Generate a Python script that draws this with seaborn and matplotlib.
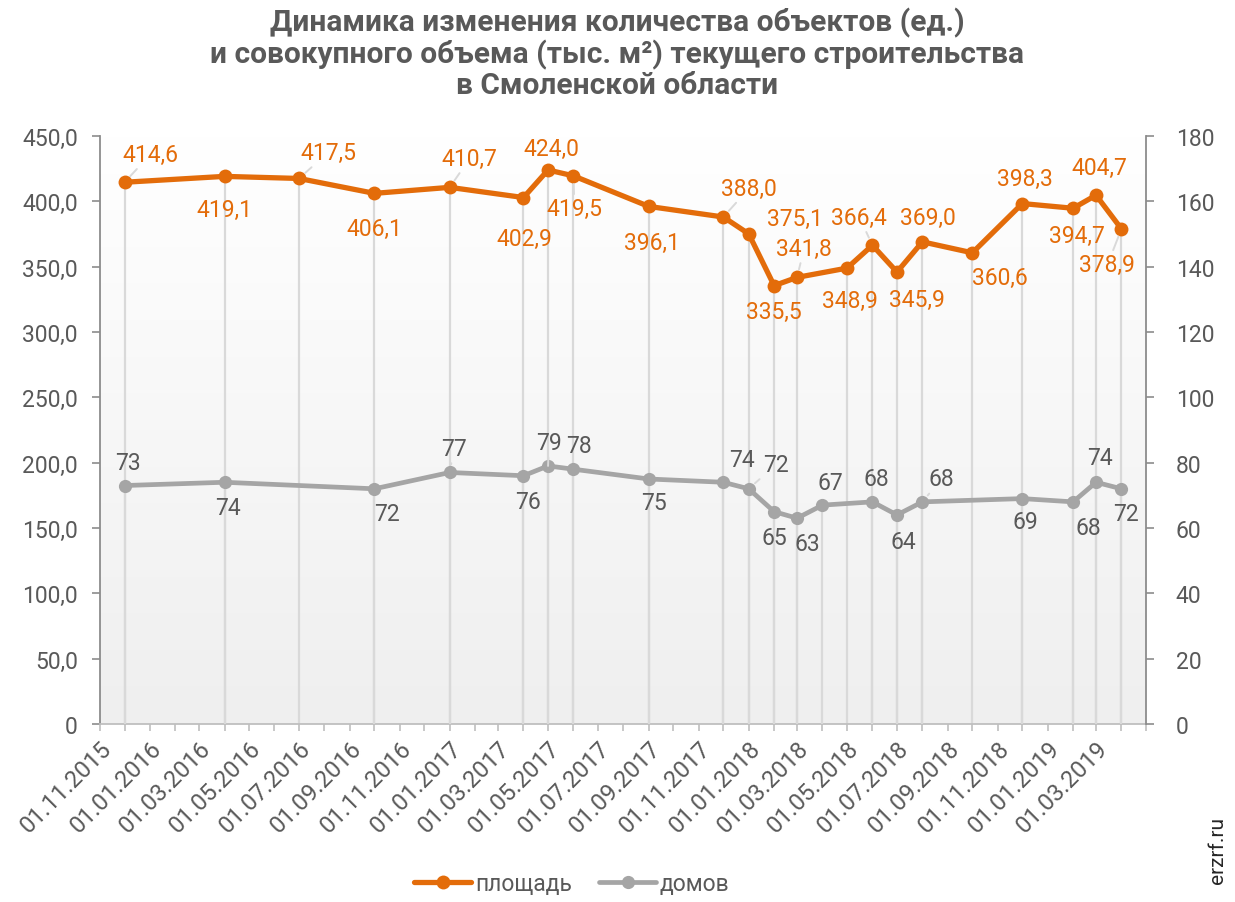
import numpy as np
import pandas as pd
import matplotlib
matplotlib.use('Agg')
import matplotlib.pyplot as plt
import matplotlib.dates as mdates
import matplotlib.ticker as mticker
from matplotlib.colors import LinearSegmentedColormap
import seaborn as sns

nan = np.nan
dates = ['2015-12-01', '2016-04-01', '2016-07-01', '2016-10-01', '2017-01-01',
         '2017-04-01', '2017-05-01', '2017-06-01', '2017-09-01', '2017-12-01',
         '2018-01-01', '2018-02-01', '2018-03-01', '2018-04-01', '2018-05-01',
         '2018-06-01', '2018-07-01', '2018-08-01', '2018-10-01', '2018-12-01',
         '2019-02-01', '2019-03-01', '2019-04-01']
area = [414.6, 419.1, 417.5, 406.1, 410.7, 402.9, 424.0, 419.5, 396.1, 388.0,
        375.1, 335.5, 341.8, nan, 348.9, 366.4, 345.9, 369.0, 360.6, 398.3,
        394.7, 404.7, 378.9]
houses = [73, 74, nan, 72, 77, 76, 79, 78, 75, 74, 72, 65, 63, 67, nan, 68, 64,
          68, nan, 69, 68, 74, 72]
series_names = ['площадь', 'домов']
title = ('Динамика изменения количества объектов (ед.)\n'
         'и совокупного объема (тыс. м²) текущего строительства\n'
         'в Смоленской области')

# label offsets in pixels (dx, dy) and whether a leader line is drawn
area_off = [(26, 28, 1), (0, -33, 0), (29, 26, 1), (0, -35, 0), (20, 29, 1),
            (1, -41, 0), (3, 22, 0), (1, -33, 1), (3, -36, 0), (26, 29, 1),
            (46, 15, 0), (0, -26, 0), (7, 29, 1), None, (3, -32, 0),
            (-13, 28, 1), (20, -27, 0), (5, 24, 0), (28, -25, 0), (3, 25, 0),
            (4, -27, 0), (3, 28, 0), (-14, -36, 1)]
house_off = [(3, 23, 0), (3, -25, 0), None, (13, -25, 0), (4, 24, 1),
             (5, -26, 0), (1, 23, 1), (6, 24, 0), (5, -24, 0), (19, 23, 0),
             (27, 24, 1), (0, -26, 0), (10, -25, 0), (8, 23, 0), None,
             (4, 23, 0), (6, -27, 0), (19, 23, 1), None, (3, -23, 0),
             (15, -26, 0), (4, 25, 0), (5, -25, 0)]

ORANGE = '#E36C0A'
GRAY = '#A5A5A5'
TXT = '#595959'
DROP = '#D9D9D9'
FS = 16.5

sns.set_theme(style='white')
plt.rcParams['font.family'] = ['Roboto', 'DejaVu Sans']

df = pd.DataFrame({'date': pd.to_datetime(dates), 'area': area, 'houses': houses})

fig = plt.figure(figsize=(12.35, 9.03), dpi=100)
pos = [100 / 1235, 1 - 725 / 903, 1046 / 1235, 588 / 903]

bg = fig.add_axes(pos, zorder=-5)
cmap = LinearSegmentedColormap.from_list('g', ['#EFEFEF', '#FFFFFF'])
bg.imshow(np.linspace(0, 1, 256).reshape(-1, 1), cmap=cmap, aspect='auto',
          extent=[0, 1, 0, 1], origin='lower')
bg.set_axis_off()

ax = fig.add_axes(pos)
ax.patch.set_visible(False)
ax2 = ax.twinx()
ax2.patch.set_visible(False)

da = df.dropna(subset=['area'])
dh = df.dropna(subset=['houses'])

# drop lines
ax.vlines(da['date'], 0, da['area'], color=DROP, lw=1.6, zorder=1)
ax2.vlines(dh['date'], 0, dh['houses'], color=DROP, lw=1.6, zorder=1)

sns.lineplot(data=da, x='date', y='area', ax=ax, color=ORANGE, lw=3.8,
             marker='o', markersize=10, markeredgewidth=0, zorder=3,
             label=series_names[0], legend=False)
sns.lineplot(data=dh, x='date', y='houses', ax=ax2, color=GRAY, lw=3.4,
             marker='o', markersize=9.5, markeredgewidth=0, zorder=3,
             label=series_names[1], legend=False)

xmin, xmax = pd.Timestamp('2015-11-01'), pd.Timestamp('2019-05-01')
ax.set_xlim(xmin, xmax)
ax.set_ylim(0, 450)
ax2.set_ylim(0, 180)
ax.set_yticks(np.arange(0, 451, 50))
ax2.set_yticks(np.arange(0, 181, 20))
ax.yaxis.set_major_formatter(mticker.FuncFormatter(
    lambda v, p: '0' if v == 0 else f'{v:.1f}'.replace('.', ',')))
ax2.yaxis.set_major_formatter(mticker.FuncFormatter(lambda v, p: f'{v:.0f}'))

major = pd.date_range('2015-11-01', '2019-03-01', freq='2MS')
ax.set_xticks(major)
ax.set_xticklabels([d.strftime('%d.%m.%Y') for d in major], rotation=45,
                   ha='right', rotation_mode='anchor')
ax.xaxis.set_minor_locator(mdates.MonthLocator())
ax.set_xlabel('')
ax.set_ylabel('')
ax2.set_ylabel('')

for a in (ax, ax2):
    for s in a.spines.values():
        s.set_visible(False)
ax.spines['left'].set_visible(True)
ax.spines['left'].set_color('#8C8C8C')
ax.spines['left'].set_linewidth(1.3)
ax.spines['bottom'].set_visible(True)
ax.spines['bottom'].set_color('#BFBFBF')
ax.spines['bottom'].set_linewidth(1.3)
ax2.spines['right'].set_visible(True)
ax2.spines['right'].set_color('#8C8C8C')
ax2.spines['right'].set_linewidth(1.3)

ax.tick_params(axis='y', which='major', direction='out', length=6, width=1.2,
               color='#8C8C8C', labelsize=FS, labelcolor=TXT, pad=10, left=True)
ax2.tick_params(axis='y', which='major', direction='out', length=5.5, width=1.2,
                color='#8C8C8C', labelsize=FS, labelcolor=TXT, pad=16, right=True)
ax.tick_params(axis='x', which='both', direction='out', length=5, width=1.2,
               color='#BFBFBF', labelsize=17, labelcolor=TXT, pad=4, bottom=True)

def label(a, d, v, off, color, fmt):
    if off is None or pd.isna(v):
        return
    dx, dy, lead = off
    kw = {}
    if lead:
        kw['arrowprops'] = dict(arrowstyle='-', color=DROP, lw=1.4,
                                shrinkA=0, shrinkB=6)
    a.annotate(fmt(v), xy=(d, v), xytext=(dx, dy), textcoords='offset pixels',
               ha='center', va='center', fontsize=FS, color=color, zorder=5,
               annotation_clip=False, **kw)

for d, v, o in zip(df['date'], df['area'], area_off):
    label(ax, d, v, o, ORANGE, lambda x: f'{x:.1f}'.replace('.', ','))
for d, v, o in zip(df['date'], df['houses'], house_off):
    label(ax2, d, v, o, TXT, lambda x: f'{x:.0f}')

fig.text(0.5, 1 - 54 / 903, title, ha='center', va='center', fontsize=21.5,
         fontweight='bold', color=TXT, linespacing=1.08)

h1, l1 = ax.get_legend_handles_labels()
h2, l2 = ax2.get_legend_handles_labels()
fig.legend(h1 + h2, l1 + l2, loc='center', bbox_to_anchor=(0.463, 1 - 885 / 903),
           ncol=2, frameon=False, fontsize=FS, labelcolor=TXT,
           handlelength=2.5, columnspacing=1.2, handletextpad=0.15)

fig.text(0.986, 1 - 850 / 903, 'erzrf.ru', rotation=90, ha='center',
         va='center', fontsize=15, color='#262626')

fig.savefig('out.png', dpi=100)
